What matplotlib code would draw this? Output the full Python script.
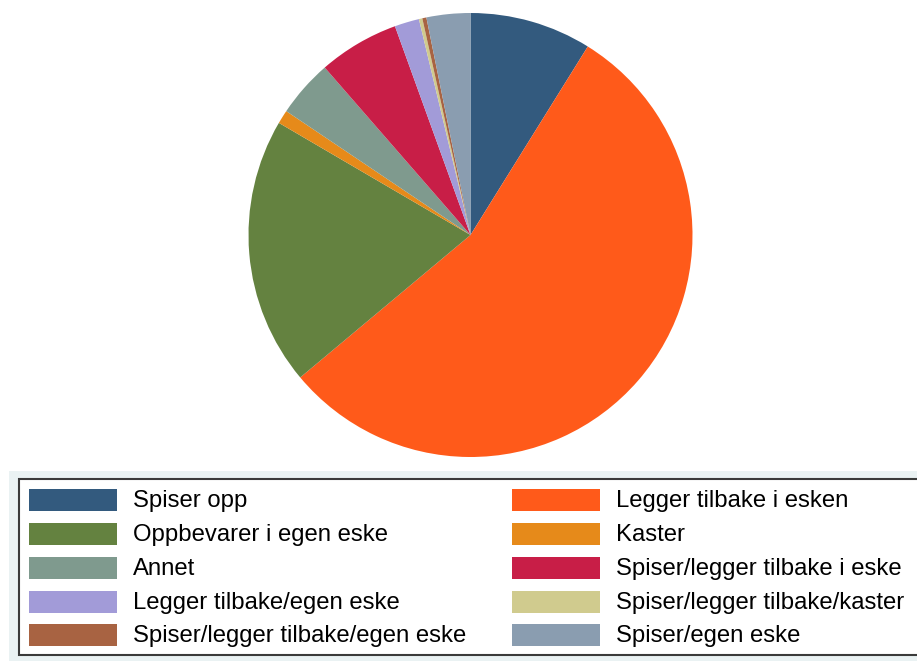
import matplotlib
matplotlib.use("Agg")
import matplotlib.pyplot as plt
from matplotlib.patches import Rectangle

labels = ["Spiser opp", "Legger tilbake i esken", "Oppbevarer i egen eske", "Kaster",
          "Annet", "Spiser/legger tilbake i eske", "Legger tilbake/egen eske",
          "Spiser/legger tilbake/kaster", "Spiser/legger tilbake/egen eske", "Spiser/egen eske"]
values = [8.9, 55.3, 19.6, 1.0, 4.2, 5.9, 1.8, 0.25, 0.3, 3.2]
colors = ["#335A7E", "#FF5A1A", "#648240", "#E68A1A", "#7F9A8E", "#C81E47",
          "#A29BD8", "#D0CB8E", "#A86342", "#8A9DB0"]
# legend order (two columns, row-wise)
legend_order = [0, 1, 2, 3, 4, 5, 6, 7, 8, 9]

W, H = 917, 661
fig = plt.figure(figsize=(W / 100, H / 100), dpi=100)
fig.patch.set_facecolor("white")

def fx(px):
    return px / W

def fy(py):
    return 1 - py / H

# light graph-region band behind legend
fig.patches.append(Rectangle((fx(9), 0), fx(W) - fx(9), fy(471), transform=fig.transFigure,
                             facecolor="#EAF2F3", edgecolor="none", zorder=0))

# pie
cx, cy, r = 470.5, 235, 222
ax = fig.add_axes([fx(cx - r), fy(cy + r), 2 * r / W, 2 * r / H])
ax.pie(values, colors=colors, startangle=90, counterclock=False, radius=1,
       wedgeprops=dict(linewidth=0, antialiased=True))
ax.set_xlim(-1, 1)
ax.set_ylim(-1, 1)
ax.set_aspect("auto")
ax.axis("off")

# legend box
x0, y0, x1, y1 = 19, 479, 930, 655
fig.patches.append(Rectangle((fx(x0), fy(y1)), fx(x1) - fx(x0), fy(y0) - fy(y1),
                             transform=fig.transFigure, facecolor="white",
                             edgecolor="#3a3a3a", linewidth=1.5, zorder=1))

col_x = [29, 512]
row_y = [500, 534, 568, 602, 635]
sw_w, sw_h = 88, 22
for k, idx in enumerate(legend_order):
    col = k % 2
    row = k // 2
    sx = col_x[col]
    sy = row_y[row]
    fig.patches.append(Rectangle((fx(sx), fy(sy + sw_h / 2)), sw_w / W, sw_h / H,
                                 transform=fig.transFigure, facecolor=colors[idx],
                                 edgecolor="none", zorder=2))
    fig.text(fx(sx + sw_w + 16), fy(sy + 1), labels[idx], fontsize=17.2,
             family="Liberation Sans", va="center", ha="left", color="black", zorder=3)

fig.savefig("out.png", dpi=100)
